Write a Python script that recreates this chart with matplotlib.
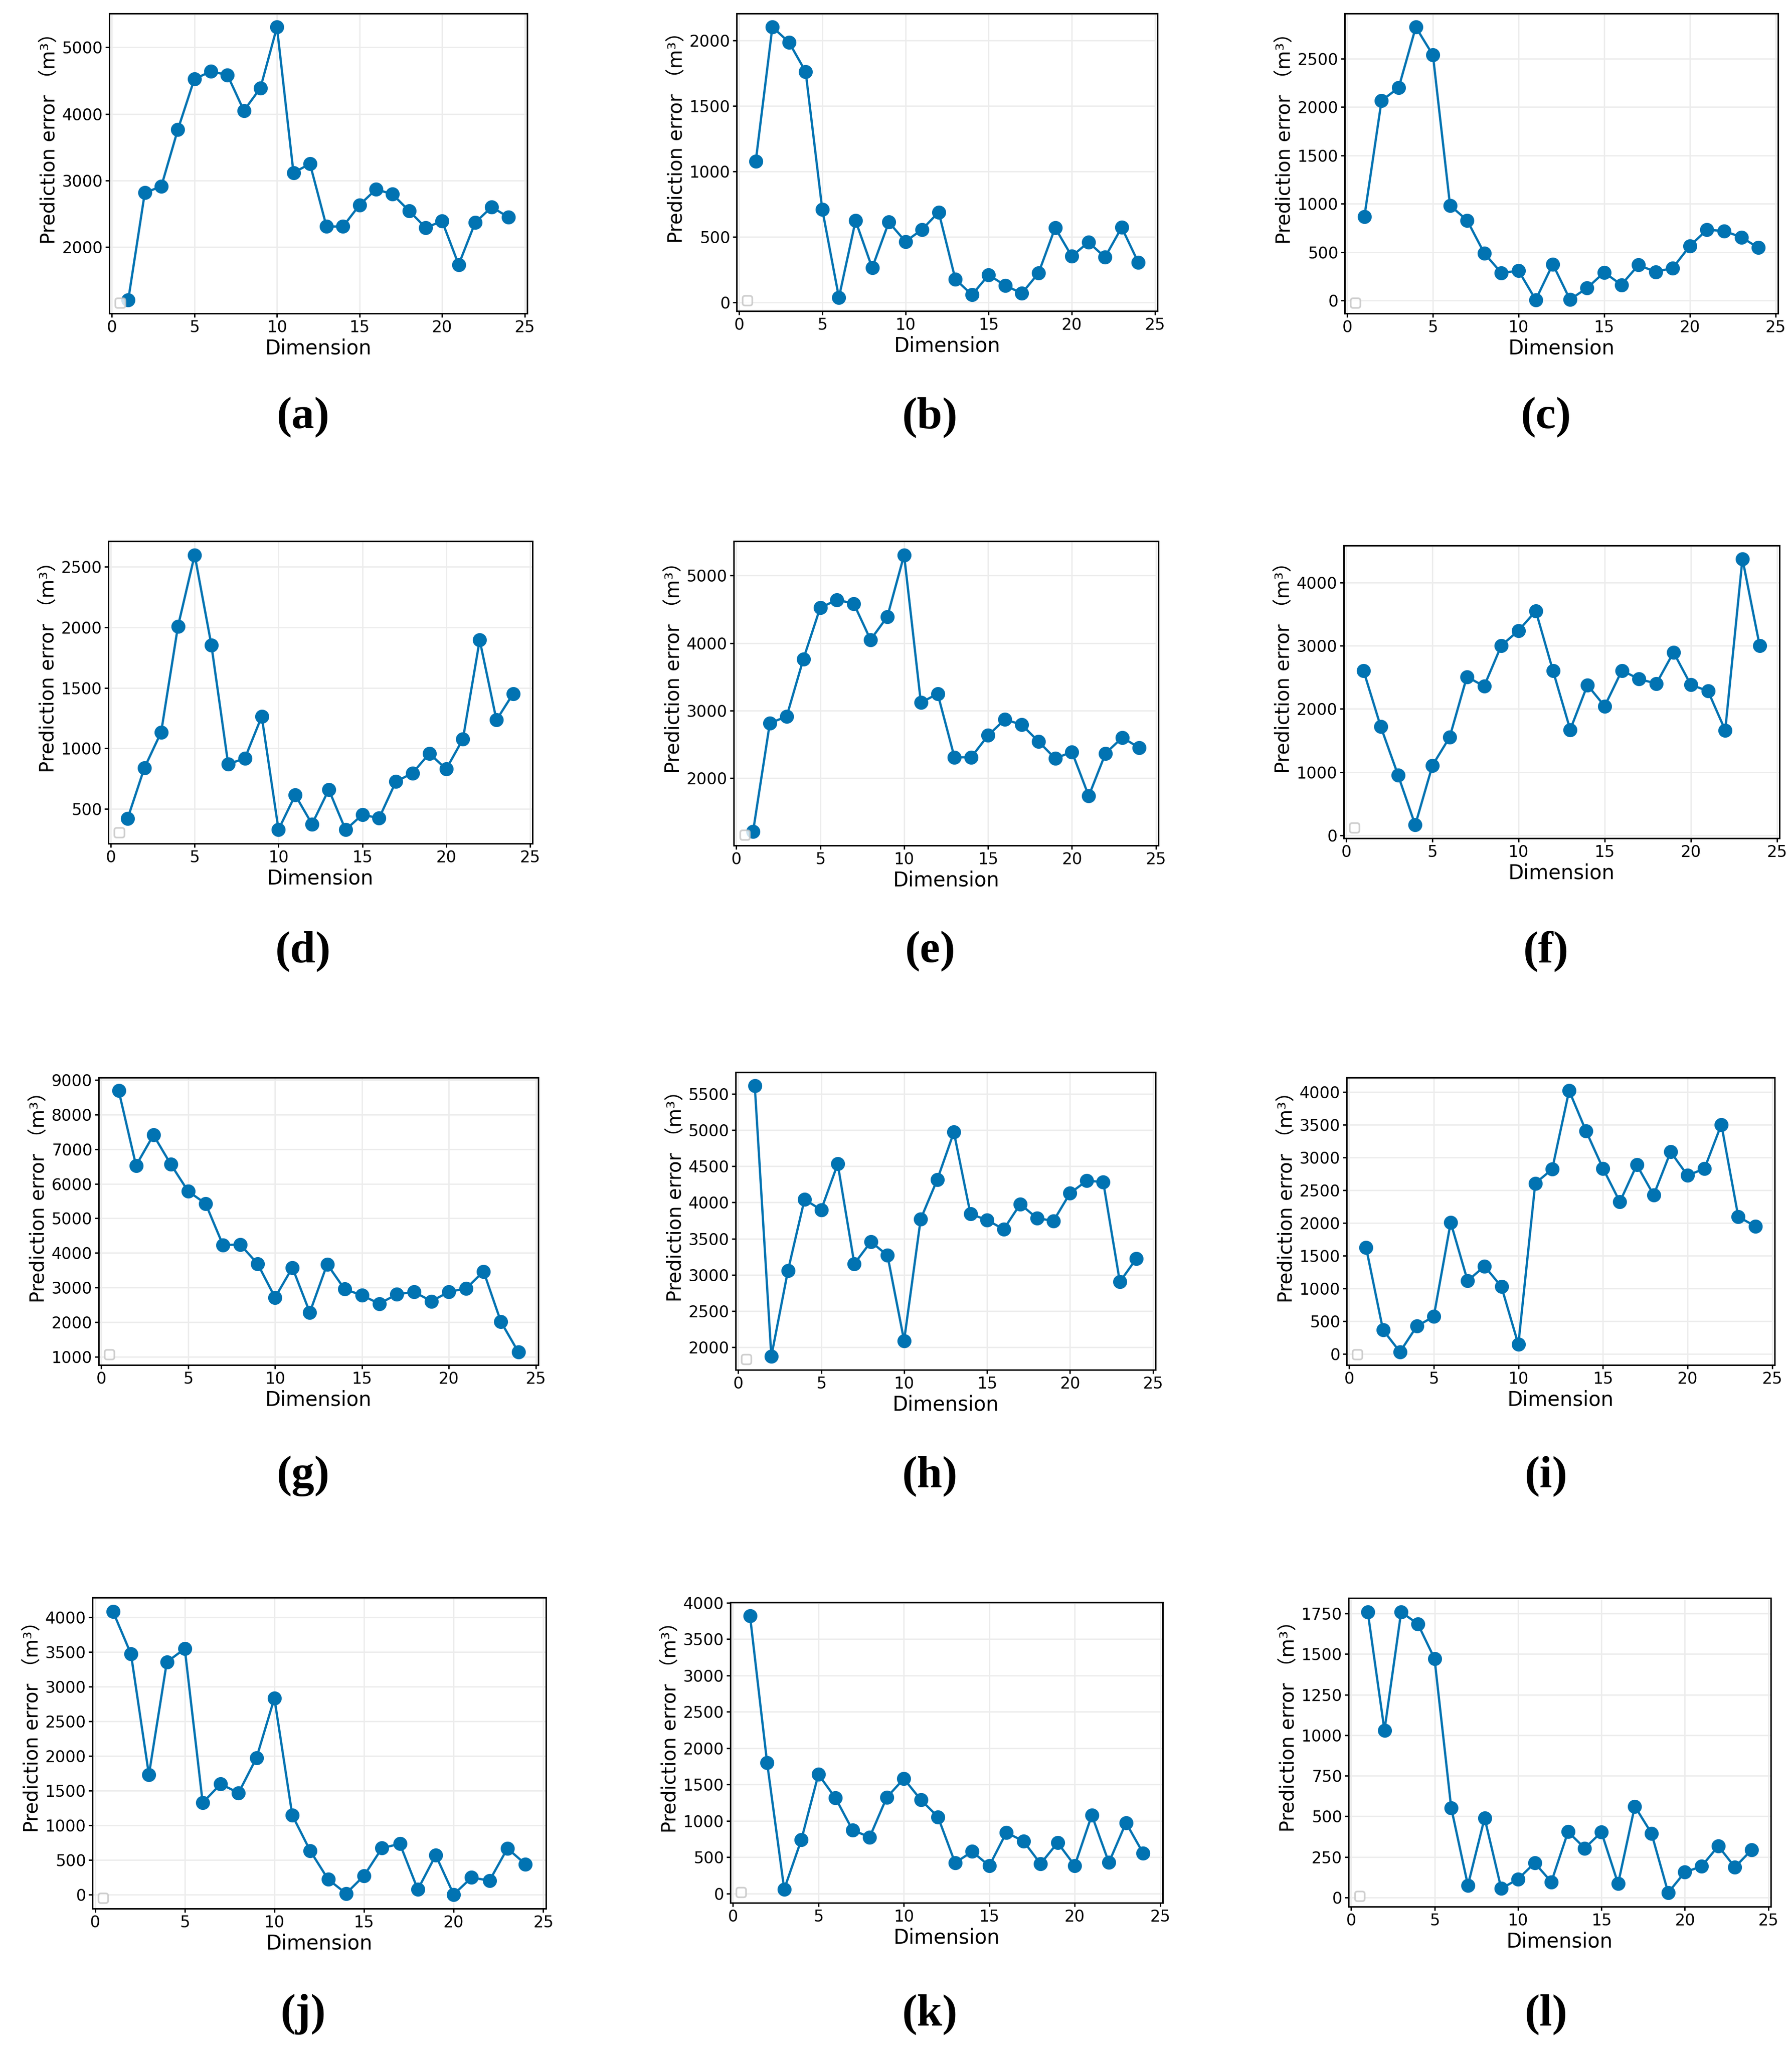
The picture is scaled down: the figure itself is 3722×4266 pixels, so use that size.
import matplotlib.pyplot as plt
from matplotlib.ticker import MultipleLocator

W, H, DPI = 3723, 4266, 100

dims = list(range(1, 25))

panel_a = [1210, 2816, 2913, 3765, 4523, 4639, 4585, 4049, 4390, 5303, 3118, 3251,
           2310, 2310, 2634, 2869, 2794, 2545, 2293, 2390, 1738, 2368, 2603, 2452]
panel_b = [1078, 2104, 1987, 1762, 709, 36, 623, 263, 612, 464, 556, 689,
           176, 56, 209, 128, 68, 223, 569, 351, 459, 344, 572, 304]
panel_c = [869, 2066, 2199, 2825, 2536, 984, 829, 489, 286, 310, 9, 377,
           12, 131, 292, 164, 368, 298, 337, 565, 732, 720, 656, 547]
panel_d = [421, 839, 1134, 2006, 2598, 1851, 869, 920, 1265, 330, 615, 375,
           660, 328, 453, 424, 726, 797, 959, 829, 1077, 1896, 1235, 1453]
panel_e = [1210, 2816, 2913, 3765, 4523, 4639, 4585, 4049, 4390, 5303, 3118, 3251,
           2310, 2310, 2634, 2869, 2794, 2545, 2293, 2390, 1738, 2368, 2603, 2452]
panel_f = [2602, 1718, 955, 165, 1106, 1553, 2508, 2358, 3002, 3238, 3548, 2602,
           1671, 2376, 2042, 2607, 2471, 2400, 2894, 2381, 2282, 1661, 4372, 2998]
panel_g = [8694, 6527, 7409, 6563, 5780, 5428, 4231, 4240, 3682, 2710, 3574, 2278,
           3673, 2953, 2773, 2530, 2800, 2872, 2602, 2872, 2971, 3466, 2008, 1135]
panel_h = [5612, 1875, 3058, 4043, 3897, 4533, 3153, 3458, 3268, 2090, 3771, 4317,
           4971, 3840, 3758, 3629, 3978, 3784, 3745, 4128, 4300, 4283, 2903, 3226]
panel_i = [1625, 366, 29, 423, 570, 2009, 1116, 1340, 1026, 143, 2608, 2822,
           4024, 3406, 2836, 2323, 2888, 2428, 3088, 2727, 2831, 3506, 2095, 1952]
panel_j = [4080, 3470, 1729, 3355, 3546, 1326, 1596, 1468, 1972, 2834, 1145, 632,
           221, 18, 274, 672, 734, 75, 570, 4, 248, 203, 668, 442]
panel_k = [3819, 1798, 59, 737, 1638, 1314, 872, 775, 1322, 1579, 1288, 1053,
           421, 577, 379, 838, 720, 408, 699, 383, 1078, 425, 973, 556]
panel_l = [1759, 1030, 1759, 1686, 1472, 553, 75, 490, 55, 113, 213, 96,
           405, 304, 403, 85, 562, 396, 30, 156, 192, 317, 187, 294]

series = [panel_a, panel_b, panel_c, panel_d, panel_e, panel_f,
          panel_g, panel_h, panel_i, panel_j, panel_k, panel_l]
names = ['(a)', '(b)', '(c)', '(d)', '(e)', '(f)',
         '(g)', '(h)', '(i)', '(j)', '(k)', '(l)']
ystep = [1000, 500, 500, 500, 1000, 1000, 1000, 500, 500, 500, 500, 250]

# axes boxes in pixels: left, right, top, bottom
boxes = [(227, 1095, 28, 651), (1530, 2404, 28, 646), (2793, 3693, 28, 651),
         (225, 1106, 1124, 1752), (1524, 2406, 1124, 1756), (2791, 3696, 1133, 1741),
         (205, 1118, 2238, 2835), (1528, 2400, 2227, 2845), (2797, 3686, 2238, 2835),
         (192, 1134, 3318, 3964), (1517, 2415, 3328, 3952), (2801, 3678, 3319, 3960)]
label_x = [630, 1932, 3211]
label_y = [867, 1976, 3066, 4184]

blue = '#0173B2'
tick_font = ['Liberation Sans Narrow', 'DejaVu Sans']

fig = plt.figure(figsize=(W / DPI, H / DPI), dpi=DPI)

for k, (vals, name, (l, r, t, b)) in enumerate(zip(series, names, boxes)):
    ax = fig.add_axes([l / W, 1 - b / H, (r - l) / W, (b - t) / H])
    ax.plot(dims, vals, '-o', color=blue, lw=3.4, ms=20)
    ax.grid(True, color='#ececec', lw=2)
    ax.set_axisbelow(True)
    ax.set_xticks([0, 5, 10, 15, 20, 25])
    ax.yaxis.set_major_locator(MultipleLocator(ystep[k]))
    ax.tick_params(labelsize=24, width=2, length=6)
    for lab in ax.get_xticklabels() + ax.get_yticklabels():
        lab.set_family(tick_font)
    for sp in ax.spines.values():
        sp.set_linewidth(2.2)
        sp.set_color('black')
    ax.set_xlabel('Dimension', fontsize=30)
    ax.set_ylabel('Prediction error （m³）', fontsize=29, y=0.6,
                  family=['DejaVu Sans', 'Noto Sans CJK SC'])
    # the original calls legend() with nothing labelled -> small empty box
    leg = ax.legend(handles=[], loc='lower left', fontsize=18)
    leg.get_frame().set_linewidth(2.5)
    leg.get_frame().set_edgecolor('#c4c4c4')
    fig.text(label_x[k % 3] / W, 1 - label_y[k // 3] / H, name,
             ha='center', va='center', fontsize=68, fontweight='bold',
             family='Liberation Serif')

fig.savefig('out.png', dpi=DPI)
